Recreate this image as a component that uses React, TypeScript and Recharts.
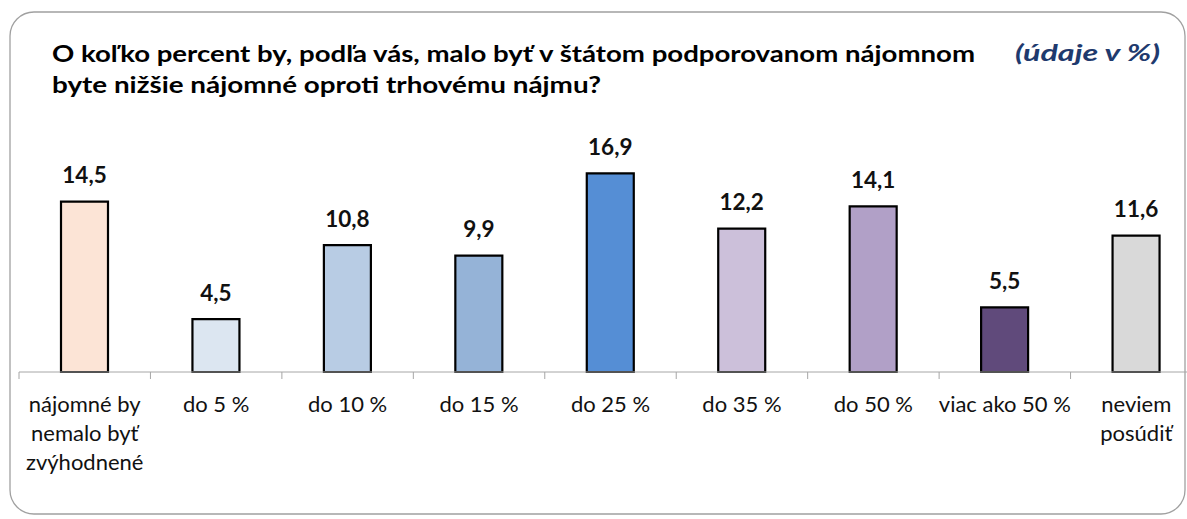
import React from 'react';
import { BarChart, Bar, XAxis, YAxis, Cell, LabelList } from 'recharts';

const categories = [
  'nájomné by\nnemalo byť\nzvýhodnené',
  'do 5 %',
  'do 10 %',
  'do 15 %',
  'do 25 %',
  'do 35 %',
  'do 50 %',
  'viac ako 50 %',
  'neviem\nposúdiť',
];
const values = [14.5, 4.5, 10.8, 9.9, 16.9, 12.2, 14.1, 5.5, 11.6];
const colors = ['#FCE4D6', '#DCE6F1', '#B8CCE4', '#95B3D7', '#558ED5', '#CCC0DA', '#B1A0C7', '#604A7B', '#D9D9D9'];
const titleLines = [
  'O koľko percent by, podľa vás, malo byť v štátom podporovanom nájomnom',
  'byte nižšie nájomné oproti trhovému nájmu?',
];
const unitNote = '(údaje v %)';

const data = categories.map((c, i) => ({ cat: c, value: values[i], color: colors[i] }));

const CHART_W = 1215;
const CHART_H = 519;
const M = { top: 137, right: 13, left: 19, bottom: 47 };
const BAND = (CHART_W - M.left - M.right) / categories.length;
const FONT = 'Lato, "Open Sans", sans-serif';

const Tick = (props: any) => {
  const { x, y, payload } = props;
  const lines = String(payload.value).split('\n');
  const bx = x - BAND / 2;
  return (
    <g>
      <line x1={bx} y1={y} x2={bx} y2={y + 7} stroke="#A6A6A6" strokeWidth={1} />
      <text textAnchor="middle" fontFamily={FONT} fontSize={22} fill="#111">
        {lines.map((l, i) => (
          <tspan key={i} x={x} y={y + 40 + i * 29}>{l}</tspan>
        ))}
      </text>
    </g>
  );
};

const ValueLabel = (props: any) => {
  const { x, y, width, value } = props;
  return (
    <text x={x + width / 2} y={y - 18.5} textAnchor="middle" fontFamily={FONT} fontWeight={700} fontSize={22.5} fill="#111">
      {Number(value).toFixed(1).replace('.', ',')}
    </text>
  );
};

export default function App() {
  return (
    <div style={{ position: 'absolute', left: 0, top: 0, width: 1187, height: 519, overflow: 'hidden', background: '#fff' }}>
      <svg width={1187} height={519} style={{ position: 'absolute', left: 0, top: 0 }}>
        <rect x={10} y={12} width={1175} height={502} rx={24} ry={24} fill="#fff" stroke="#A0A0A0" strokeWidth={1.3} />
        <text x={52} y={62} fontFamily={FONT} fontWeight={700} fontSize={23.5} fill="#000" textLength={923} lengthAdjust="spacingAndGlyphs">{titleLines[0]}</text>
        <text x={52} y={93} fontFamily={FONT} fontWeight={700} fontSize={23.5} fill="#000" textLength={549} lengthAdjust="spacingAndGlyphs">{titleLines[1]}</text>
        <text x={1015} y={61} fontFamily={FONT} fontWeight={700} fontStyle="italic" fontSize={23.5} fill="#1F3A6E" textLength={145} lengthAdjust="spacingAndGlyphs">{unitNote}</text>
      </svg>
      <div style={{ position: 'absolute', left: 0, top: 0 }}>
        <BarChart width={CHART_W} height={CHART_H} data={data} margin={M} barCategoryGap={0}>
          <XAxis dataKey="cat" interval={0} tickLine={false} tickSize={0} tickMargin={0} height={100}
            axisLine={{ stroke: '#A6A6A6', strokeWidth: 1 }} tick={<Tick />} />
          <YAxis hide domain={[0, 20]} />
          <Bar dataKey="value" barSize={47} stroke="#000" strokeWidth={2.2} isAnimationActive={false}>
            {data.map((d, i) => (
              <Cell key={i} fill={d.color} />
            ))}
            <LabelList dataKey="value" content={<ValueLabel />} />
          </Bar>
        </BarChart>
      </div>
    </div>
  );
}
